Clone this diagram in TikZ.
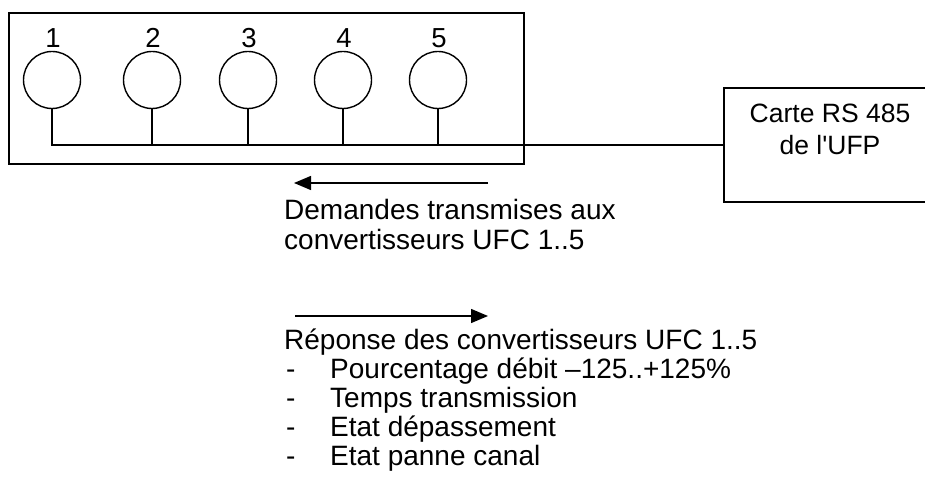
\documentclass[tikz,border=0pt]{standalone}
\usepackage{fontspec}
\setmainfont{Liberation Sans}
% same face without the TeX quote mapping, so ' stays straight
\newfontfamily\plainsans{Liberation Sans}
\usetikzlibrary{arrows.meta}
\begin{document}
\begin{tikzpicture}[x=1pt,y=-1pt,
  wire/.style={line width=1.4pt},
  conv/.style={draw,circle,line width=1.4pt,minimum size=57pt,inner sep=0pt},
  numlbl/.style={font=\fontsize{27.5}{29}\selectfont,inner sep=0pt,anchor=base},
  cardtxt/.style={font=\plainsans\fontsize{26.5}{29}\selectfont,inner sep=0pt,anchor=base},
  txt/.style={font=\fontsize{28}{29}\selectfont,inner sep=0pt,anchor=base west},
  flow/.style={line width=1.4pt,-{Triangle[length=17pt,width=14pt]}}]
\useasboundingbox (0,0) rectangle (925,478);

% converter rack
\node[draw,wire,minimum width=515pt,minimum height=151pt,inner sep=0pt] (rack) at (266.5,88.5) {};
% RS 485 card, running off the right edge
\node[draw,wire,minimum width=212pt,minimum height=114pt,inner sep=0pt] (card) at (830,145) {};
\node[cardtxt] (cardl1) at (830,123) {Carte RS 485};
\node[cardtxt] (cardl2) at (830,155) {de l'UFP};

% converters 1..5
\foreach \i/\x in {1/52,2/152,3/248,4/343,5/438}{
  \node[conv] (c\i) at (\x,80) {};
  \node[numlbl] (n\i) at (\x+1,48) {\i};
}

% RS 485 bus
\draw[wire] (c1.south) |- (card.west);
\foreach \i in {2,...,5}{
  \draw[wire] (c\i.south) -- (c\i.south |- card.west);
}

% request direction
\coordinate (rqs) at (488,183);
\coordinate (rqe) at (294,183);
\draw[flow] (rqs) -- (rqe);
\node[txt] (rq1) at (284,220) {Demandes transmises aux};
\node[txt] (rq2) at (284,249) {convertisseurs UFC 1..5};

% reply direction
\coordinate (rps) at (295,316);
\coordinate (rpe) at (488,316);
\draw[flow] (rps) -- (rpe);
\node[txt] (rp0) at (284,349) {Réponse des convertisseurs UFC 1..5};
\foreach \j/\t/\y in {1/{Pourcentage débit –125..+125\%}/378,
                      2/{Temps transmission}/407,
                      3/{Etat dépassement}/436,
                      4/{Etat panne canal}/465}{
  \node[txt] (d\j) at (286,\y) {-};
  \node[txt] (it\j) at (330,\y) {\t};
}
\end{tikzpicture}
\end{document}
